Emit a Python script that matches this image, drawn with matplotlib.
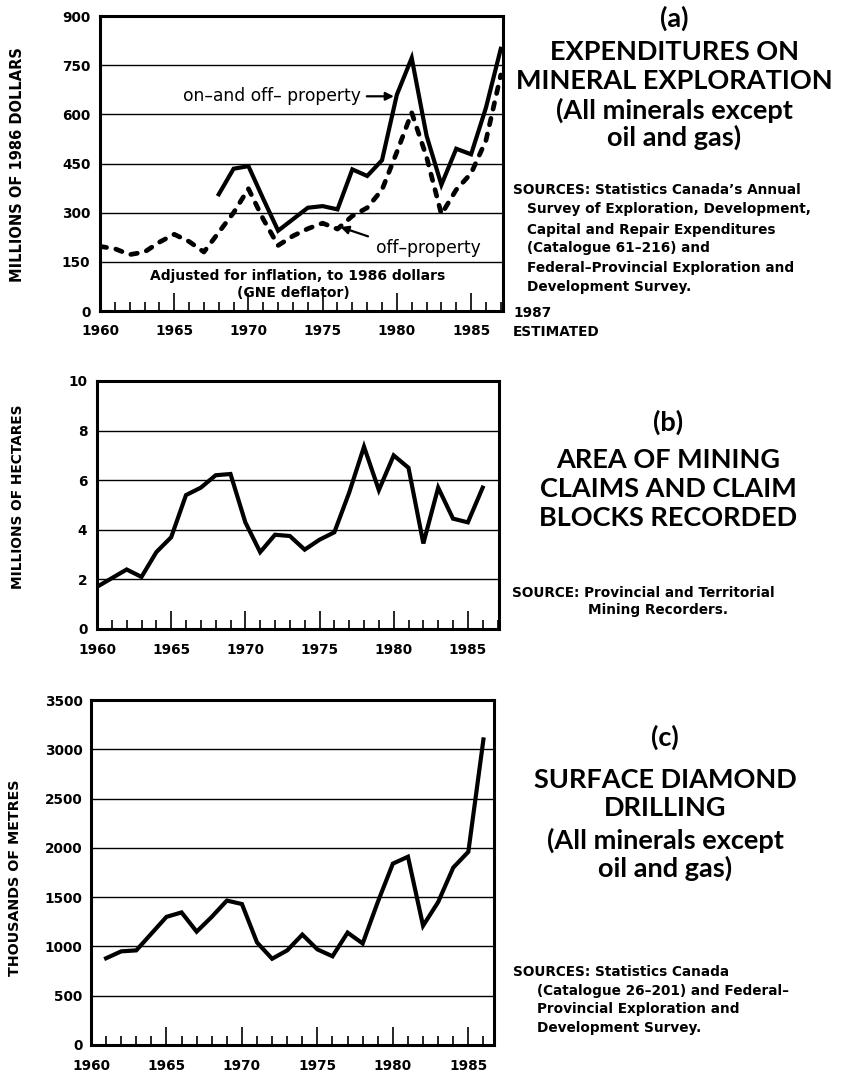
import numpy as np
import matplotlib
matplotlib.use("Agg")
import matplotlib.pyplot as plt
from matplotlib.ticker import MultipleLocator

# (a) exploration spending, millions of 1986 dollars
years_total = list(range(1968, 1988))
spend_total = [356, 434, 442, 342, 245, 280, 315, 320, 310, 432, 412, 460,
               660, 772, 535, 385, 495, 478, 620, 800]

years_off = list(range(1960, 1988))
spend_off = [197, 190, 172, 180, 210, 234, 212, 180, 240, 300, 373, 280,
             200, 229, 251, 268, 250, 290, 315, 370, 485, 605, 470, 295,
             370, 420, 520, 720]

# (b) mining claims recorded, millions of hectares
years_claims = list(range(1960, 1987))
claims = [1.7, 2.05, 2.4, 2.1, 3.1, 3.7, 5.4, 5.7, 6.2, 6.25, 4.3, 3.1,
          3.8, 3.75, 3.2, 3.6, 3.9, 5.5, 7.35, 5.6, 7.0, 6.5, 3.45, 5.7,
          4.45, 4.3, 5.7]

# (c) surface diamond drilling, thousands of metres
years_drill = list(range(1961, 1987))
drilling = [880, 950, 960, 1130, 1300, 1345, 1150, 1300, 1465, 1430, 1040,
            875, 960, 1120, 970, 900, 1140, 1030, 1450, 1840, 1910, 1210,
            1450, 1800, 1960, 3100]

yticks_a = [0, 150, 300, 450, 600, 750, 900]
yticks_b = [0, 2, 4, 6, 8, 10]
yticks_c = [0, 500, 1000, 1500, 2000, 2500, 3000, 3500]
xticks = [1960, 1965, 1970, 1975, 1980, 1985]

W, H = 849, 1074
SMALL = "DejaVu Sans"
TITLE = "Lato"
TSIZE = 19.5


def px(x, y):
    return x / W, 1 - y / H


def box(left, top, right, bottom):
    return [left / W, 1 - bottom / H, (right - left) / W, (bottom - top) / H]


def style_axes(ax, yticks, xmax, ypad, xpad):
    ax.set_xlim(1960, xmax)
    ax.set_ylim(yticks[0], yticks[-1])
    ax.set_yticks(yticks)
    ax.set_xticks(xticks)
    ax.xaxis.set_minor_locator(MultipleLocator(1))
    for y in yticks[1:-1]:
        ax.axhline(y, color="black", lw=1.0, zorder=1)
    for s in ax.spines.values():
        s.set_linewidth(2.2)
    ax.tick_params(axis="y", length=0, pad=ypad)
    ax.tick_params(axis="x", which="major", direction="in", length=13,
                   width=1.2, pad=xpad, top=False)
    ax.tick_params(axis="x", which="minor", direction="in", length=6.5,
                   width=1.2, top=False)
    for lab in ax.get_xticklabels() + ax.get_yticklabels():
        lab.set_family(SMALL)
        lab.set_fontweight("bold")
        lab.set_fontsize(9.8)


def title_lines(cx, lines):
    for y, txt in lines:
        x, yy = px(cx, y)
        fig.text(x, yy, txt, ha="center", va="center", family=TITLE,
                 fontweight="bold", fontsize=TSIZE)


def source_lines(lines):
    for x, y, txt in lines:
        fx, fy = px(x, y)
        fig.text(fx, fy, txt, ha="left", va="center", family=SMALL,
                 fontweight="bold", fontsize=9.8)


def ylabel(x, y, txt, size):
    fx, fy = px(x, y)
    fig.text(fx, fy, txt, rotation=90, ha="center", va="center",
             family=SMALL, fontweight="bold", fontsize=size)


fig = plt.figure(figsize=(W / 100, H / 100), dpi=100)

# panel (a)
ax_a = fig.add_axes(box(100, 16, 503, 311))
ax_a.plot(years_off, spend_off, color="black", lw=3.4, dashes=(1.4, 2.0),
          dash_capstyle="round", zorder=3)
ax_a.plot(years_total, spend_total, color="black", lw=3.0,
          solid_joinstyle="miter", zorder=4)
style_axes(ax_a, yticks_a, 1987.15, 7, 9)
ax_a.annotate("on\u2013and off\u2013 property", xy=(1979.8, 655),
              xytext=(1977.6, 655), ha="right", va="center", family=SMALL,
              fontsize=12.3,
              arrowprops=dict(arrowstyle="-|>", color="black", lw=1.6,
                              mutation_scale=12, shrinkA=2, shrinkB=0))
ax_a.annotate("off\u2013property", xy=(1976.2, 256), xytext=(1978.6, 192),
              ha="left", va="center", family=SMALL, fontsize=12.3,
              arrowprops=dict(arrowstyle="-|>", color="black", lw=1.6,
                              mutation_scale=12, shrinkA=4, shrinkB=0,
                              relpos=(0, 1)))
ax_a.text(1973.3, 107, "Adjusted for inflation, to 1986 dollars",
          ha="center", va="center", family=SMALL, fontweight="bold",
          fontsize=10)
ax_a.text(1973.0, 55, "(GNE deflator)", ha="center", va="center",
          family=SMALL, fontweight="bold", fontsize=10)
ylabel(18, 165, "MILLIONS OF 1986 DOLLARS", 10.5)

title_lines(674, [(18, "(a)"),
                  (52, "EXPENDITURES ON"),
                  (81, "MINERAL EXPLORATION"),
                  (110, "(All minerals except"),
                  (137, "oil and gas)")])
source_lines([(513, 190, "SOURCES: Statistics Canada\u2019s Annual"),
              (527, 209, "Survey of Exploration, Development,"),
              (527, 230, "Capital and Repair Expenditures"),
              (527, 248, "(Catalogue 61\u2013216) and"),
              (527, 268, "Federal\u2013Provincial Exploration and"),
              (527, 287, "Development Survey."),
              (513, 313, "1987"),
              (513, 332, "ESTIMATED")])

# panel (b)
ax_b = fig.add_axes(box(97, 381, 499, 629))
ax_b.plot(years_claims, claims, color="black", lw=3.0,
          solid_joinstyle="miter", zorder=3)
style_axes(ax_b, yticks_b, 1987.1, 7, 10)
ylabel(18, 497, "MILLIONS OF HECTARES", 9.9)
title_lines(668, [(422, "(b)"),
                  (460, "AREA OF MINING"),
                  (489, "CLAIMS AND CLAIM"),
                  (518, "BLOCKS RECORDED")])
source_lines([(512, 593, "SOURCE: Provincial and Territorial"),
              (588, 610, "Mining Recorders.")])

# panel (c)
ax_c = fig.add_axes(box(91, 700, 494, 1045))
ax_c.plot(years_drill, drilling, color="black", lw=3.0,
          solid_joinstyle="miter", zorder=3)
style_axes(ax_c, yticks_c, 1986.7, 6, 10)
ylabel(15, 878, "THOUSANDS OF METRES", 10.3)
title_lines(665, [(737, "(c)"),
                  (780, "SURFACE DIAMOND"),
                  (808, "DRILLING"),
                  (840, "(All minerals except"),
                  (868, "oil and gas)")])
source_lines([(513, 972, "SOURCES: Statistics Canada"),
              (537, 991, "(Catalogue 26\u2013201) and Federal\u2013"),
              (537, 1009, "Provincial Exploration and"),
              (537, 1028, "Development Survey.")])

fig.savefig("out.png", dpi=100, facecolor="white")
